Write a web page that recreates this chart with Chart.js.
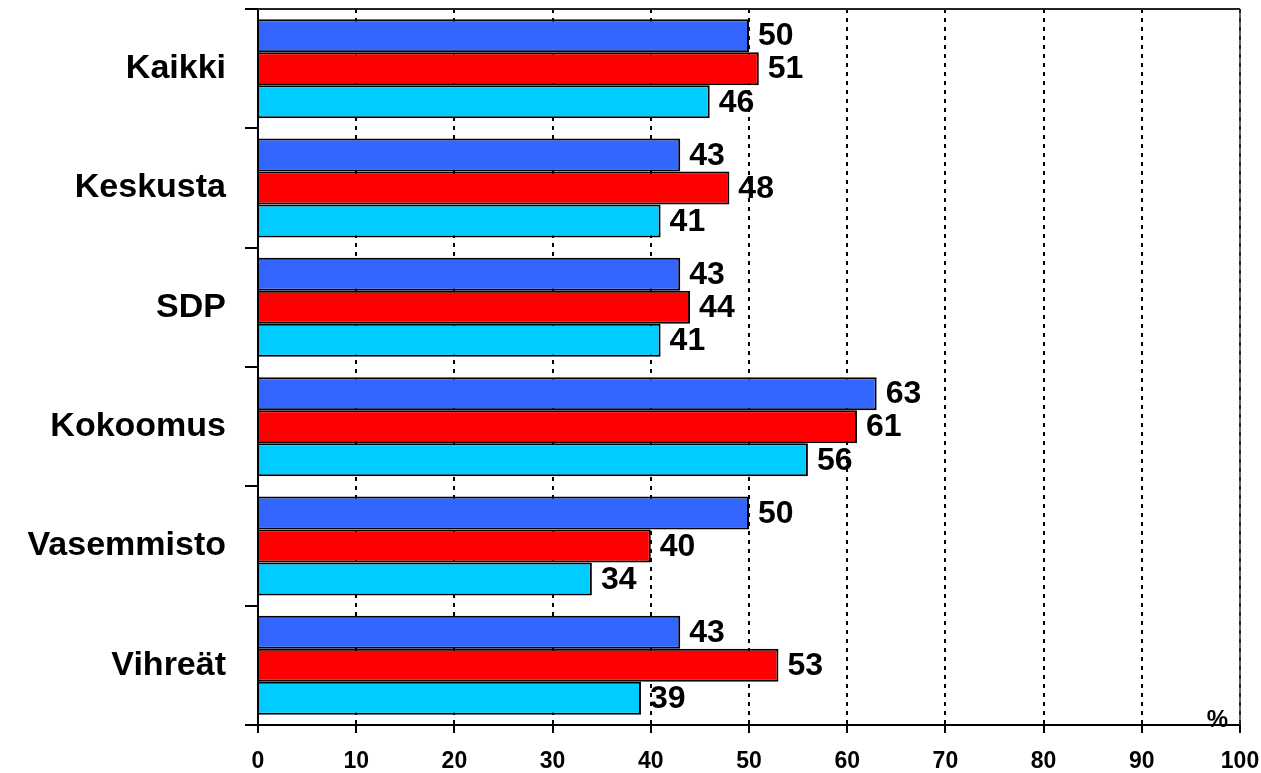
<!DOCTYPE html>
<html>
<head>
<meta charset="utf-8">
<script src="https://cdn.jsdelivr.net/npm/chart.js@4"></script>
<style>
  html, body { margin: 0; padding: 0; background: #fff; }
  #wrap { width: 1261px; height: 773px; position: relative; }
</style>
</head>
<body>
<div id="wrap"><canvas id="chart"></canvas></div>
<script>
// categories (top to bottom)
const categories = ['Kaikki', 'Keskusta', 'SDP', 'Kokoomus', 'Vasemmisto', 'Vihreät'];
// three series per category, no legend in the original
const seriesBlue = [50, 43, 43, 63, 50, 43];
const seriesRed = [51, 48, 44, 61, 40, 53];
const seriesCyan = [46, 41, 41, 56, 34, 39];
const seriesColors = ['#3366FF', '#FF0000', '#00CCFF'];
const xTicks = [0, 10, 20, 30, 40, 50, 60, 70, 80, 90, 100];

const FONT = '"Liberation Sans", Arial, sans-serif';

//value labels at the end of each bar
const valueLabels = {
  id: 'valueLabels',
  afterDatasetsDraw(chart) {
    const ctx = chart.ctx;
    ctx.save();
    ctx.font = 'bold 32px ' + FONT;
    ctx.fillStyle = '#000';
    ctx.textAlign = 'left';
    ctx.textBaseline = 'middle';
    chart.data.datasets.forEach((ds, i) => {
      chart.getDatasetMeta(i).data.forEach((bar, j) => {
        ctx.fillText(ds.data[j], bar.x + 9, bar.y + 1);
      });
    });
    ctx.restore();
  }
};

//frame on top/right and the % unit
const frame = {
  id: 'frame',
  afterDraw(chart) {
    const {ctx, chartArea: {left, right, top, bottom}} = chart;
    ctx.save();
    ctx.strokeStyle = '#222';
    ctx.lineWidth = 2;
    ctx.beginPath();
    ctx.moveTo(left, top);
    ctx.lineTo(right, top);
    ctx.stroke();
    ctx.lineWidth = 1.5;
    ctx.strokeStyle = '#333';
    ctx.beginPath();
    ctx.moveTo(right, top);
    ctx.lineTo(right, bottom);
    ctx.stroke();
    ctx.font = 'bold 24px ' + FONT;
    ctx.fillStyle = '#000';
    ctx.textAlign = 'right';
    ctx.textBaseline = 'middle';
    ctx.fillText('%', right - 12, bottom - 5);
    ctx.restore();
  }
};

const datasets = [seriesBlue, seriesRed, seriesCyan].map((data, i) => {
  return {
    label: 'Sarja ' + (i + 1),
    data: data,
    backgroundColor: seriesColors[i],
    borderColor: '#000',
    borderWidth: 2,
    barPercentage: 1,
    categoryPercentage: 0.83
  };
});

new Chart(document.getElementById('chart'), {
  type: 'bar',
  data: { labels: categories, datasets: datasets },
  options: {
    indexAxis: 'y',
    responsive: true,
    maintainAspectRatio: false,
    animation: false,
    layout: { padding: { top: 9, right: 21, left: 0, bottom: 0 } },
    plugins: {
      legend: { display: false },
      tooltip: { enabled: false }
    },
    scales: {
      x: {
        min: 0,
        max: 100,
        afterBuildTicks: (scale) => { scale.ticks = xTicks.map(v => ({ value: v })); },
        afterFit: (scale) => {
          scale.height = 48;
          scale.paddingLeft = 0;
          scale.paddingRight = 0;
        },
        grid: {
          color: '#000',
          lineWidth: 2,
          drawTicks: true,
          tickLength: 8,
          tickColor: '#000'
        },
        border: { display: true, color: '#000', width: 2, dash: [4, 5] },
        ticks: {
          color: '#000',
          padding: 15,
          maxRotation: 0,
          font: { family: FONT, size: 23, weight: 'bold' }
        }
      },
      y: {
        afterFit: (scale) => {
          scale.width = 258;
          scale.paddingTop = 0;
          scale.paddingBottom = 0;
        },
        grid: {
          offset: true,
          drawOnChartArea: false,
          drawTicks: true,
          tickLength: 13,
          color: '#000',
          lineWidth: 2
        },
        border: { display: true, color: '#000', width: 2 },
        ticks: {
          color: '#000',
          padding: 19,
          font: { family: FONT, size: 34, weight: 'bold' }
        }
      }
    }
  },
  plugins: [valueLabels, frame]
});
</script>
</body>
</html>
